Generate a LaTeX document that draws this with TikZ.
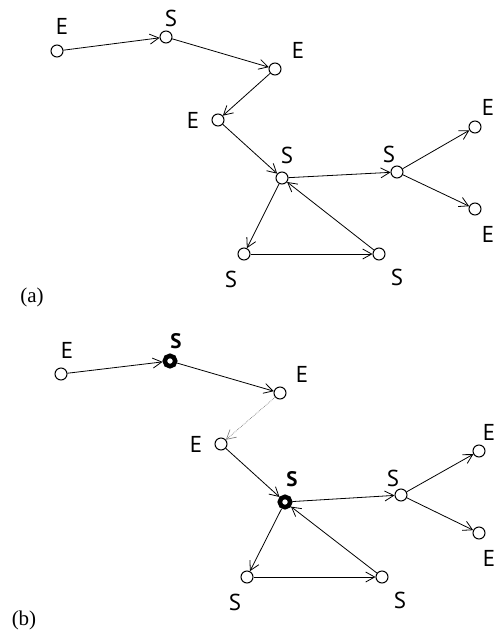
\documentclass[tikz,border=0pt]{standalone}
\usepackage{fontspec}
\setmainfont{Liberation Serif}
\newfontfamily\lblfont{PT Sans}
\usetikzlibrary{arrows.meta}
\tikzset{
  vtx/.style={circle,draw,fill=white,inner sep=0pt,minimum size=12pt,line width=1pt},
  bvtx/.style={circle,draw,fill=white,inner sep=0pt,minimum size=10.5pt,line width=4.5pt},
  lbl/.style={font=\lblfont\fontsize{23}{25}\selectfont,inner sep=0pt},
  blbl/.style={font=\lblfont\bfseries\fontsize{21}{23}\selectfont,inner sep=0pt},
  edge/.style={line width=0.8pt,-{Straight Barb[length=9pt,width=10pt]}},
  gedge/.style={line width=0.7pt,gray,densely dotted,-{Straight Barb[length=9pt,width=10pt]}},
  captxt/.style={font=\fontsize{21}{23}\selectfont,inner sep=0pt}
}
\begin{document}
\begin{tikzpicture}[x=1pt,y=-1pt]
\useasboundingbox (0,0) rectangle (494,635);
% ---------- panel (a) ----------
\node[vtx] (ae1) at (57,51) {};
\node[vtx] (as1) at (166,37) {};
\node[vtx] (ae2) at (275,69) {};
\node[vtx] (ae3) at (218,120) {};
\node[vtx] (as2) at (282,178) {};
\node[vtx] (as3) at (397,172) {};
\node[vtx] (ae4) at (475,127) {};
\node[vtx] (ae5) at (475,209) {};
\node[vtx] (as4) at (244,254) {};
\node[vtx] (as5) at (379,254) {};
\node[lbl] (lae1) at (62,26) {E};
\node[lbl] (las1) at (171,18) {S};
\node[lbl] (lae2) at (298,50) {E};
\node[lbl] (lae3) at (193,120) {E};
\node[lbl] (las2) at (287,155) {S};
\node[lbl] (las3) at (389,154) {S};
\node[lbl] (lae4) at (488,107) {E};
\node[lbl] (lae5) at (488,234) {E};
\node[lbl] (las4) at (231,279) {S};
\node[lbl] (las5) at (397,277) {S};
\node[captxt] (capa) at (32,297) {(a)};
\draw[edge] (ae1) -- (as1);
\draw[edge] (as1) -- (ae2);
\draw[edge] (ae2) -- (ae3);
\draw[edge] (ae3) -- (as2);
\draw[edge] (as2) -- (as3);
\draw[edge] (as3) -- (ae4);
\draw[edge] (as3) -- (ae5);
\draw[edge] (as2) -- (as4);
\draw[edge] (as4) -- (as5);
\draw[edge] (as5) -- (as2);
% ---------- panel (b) ----------
\node[vtx] (be1) at (61,374) {};
\node[bvtx] (bs1) at (170,361) {};
\node[vtx] (be2) at (280,393) {};
\node[vtx] (be3) at (221,444) {};
\node[bvtx] (bs2) at (285,502) {};
\node[vtx] (bs3) at (401,495) {};
\node[vtx] (be4) at (479,451) {};
\node[vtx] (be5) at (479,533) {};
\node[vtx] (bs4) at (247,577) {};
\node[vtx] (bs5) at (382,577) {};
\node[lbl] (lbe1) at (67,350) {E};
\node[blbl] (lbs1) at (176,341) {S};
\node[lbl] (lbe2) at (302,374) {E};
\node[lbl] (lbe3) at (196,444) {E};
\node[blbl] (lbs2) at (292,479) {S};
\node[lbl] (lbs3) at (393,478) {S};
\node[lbl] (lbe4) at (489,432) {E};
\node[lbl] (lbe5) at (489,558) {E};
\node[lbl] (lbs4) at (235,602) {S};
\node[lbl] (lbs5) at (400,600) {S};
\node[captxt] (capb) at (24,620) {(b)};
\draw[edge] (be1) -- (bs1);
\draw[edge] (bs1) -- (be2);
\draw[gedge] (be2) -- (be3);
\draw[edge] (be3) -- (bs2);
\draw[edge] (bs2) -- (bs3);
\draw[edge] (bs3) -- (be4);
\draw[edge] (bs3) -- (be5);
\draw[edge] (bs2) -- (bs4);
\draw[edge] (bs4) -- (bs5);
\draw[edge] (bs5) -- (bs2);
\end{tikzpicture}
\end{document}
